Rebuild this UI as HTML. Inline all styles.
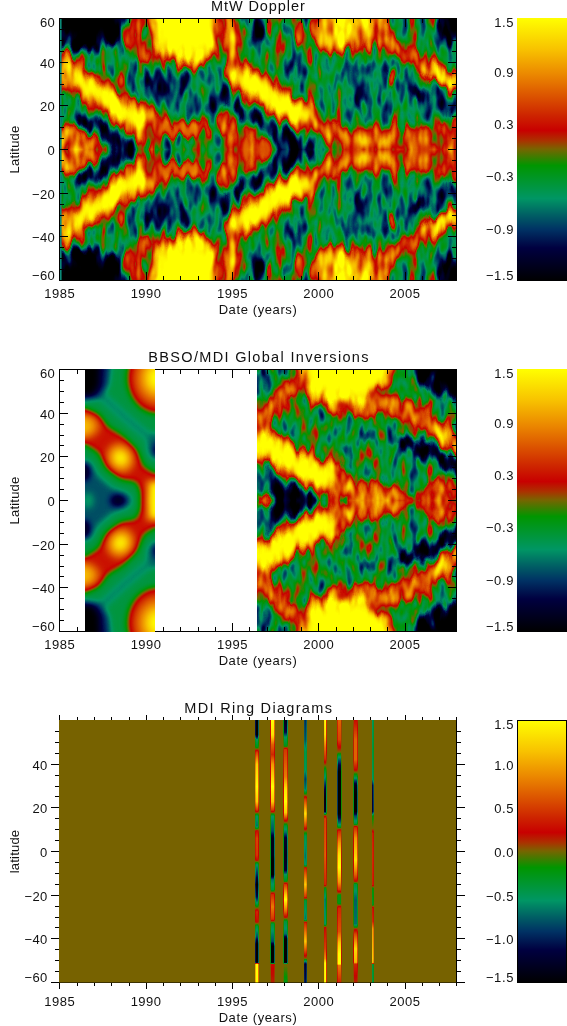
<!DOCTYPE html>
<html lang="en"><head><meta charset="utf-8"><title>Torsional oscillation</title>
<style>html,body{margin:0;padding:0;background:#fff}svg{display:block}text{font-family:'Liberation Sans', sans-serif;fill:#111}</style>
</head><body>
<svg width="567" height="1026" viewBox="0 0 567 1026">
<defs>
<filter id="cm" x="0" y="0" width="100%" height="100%" color-interpolation-filters="sRGB"><feComponentTransfer><feFuncR type="table" tableValues="0.000 0.000 0.000 0.000 0.000 0.000 0.000 0.000 0.000 0.000 0.000 0.000 0.000 0.000 0.000 0.000 0.000 0.000 0.000 0.000 0.000 0.000 0.000 0.000 0.000 0.000 0.000 0.000 0.000 0.000 0.000 0.000 0.000 0.000 0.000 0.000 0.000 0.000 0.059 0.147 0.235 0.324 0.412 0.495 0.569 0.642 0.690 0.725 0.761 0.786 0.790 0.794 0.798 0.803 0.810 0.819 0.827 0.836 0.845 0.854 0.863 0.872 0.880 0.889 0.898 0.907 0.916 0.924 0.930 0.936 0.942 0.948 0.954 0.960 0.966 0.973 0.975 0.978 0.981 0.984 0.986 0.989 0.992 0.995 0.997 1.000"/><feFuncG type="table" tableValues="0.000 0.000 0.000 0.000 0.000 0.000 0.000 0.000 0.000 0.000 0.000 0.011 0.044 0.076 0.109 0.142 0.174 0.209 0.246 0.284 0.322 0.360 0.400 0.440 0.480 0.521 0.561 0.588 0.588 0.588 0.588 0.588 0.588 0.588 0.588 0.588 0.588 0.588 0.564 0.527 0.490 0.453 0.417 0.368 0.294 0.221 0.157 0.098 0.039 0.010 0.039 0.069 0.098 0.127 0.157 0.186 0.216 0.245 0.275 0.304 0.333 0.363 0.392 0.422 0.451 0.480 0.510 0.539 0.567 0.595 0.624 0.652 0.680 0.708 0.736 0.765 0.788 0.812 0.835 0.859 0.882 0.906 0.929 0.953 0.976 1.000"/><feFuncB type="table" tableValues="0.000 0.024 0.047 0.071 0.094 0.118 0.141 0.165 0.188 0.212 0.235 0.259 0.282 0.306 0.329 0.353 0.376 0.392 0.392 0.392 0.392 0.392 0.392 0.392 0.392 0.392 0.392 0.380 0.343 0.306 0.270 0.233 0.196 0.159 0.123 0.086 0.049 0.012 0.000 0.000 0.000 0.000 0.000 0.000 0.000 0.000 0.000 0.000 0.000 0.000 0.000 0.000 0.000 0.000 0.000 0.000 0.000 0.000 0.000 0.000 0.000 0.000 0.000 0.000 0.000 0.000 0.000 0.000 0.000 0.000 0.000 0.000 0.000 0.000 0.000 0.000 0.000 0.000 0.000 0.000 0.000 0.000 0.000 0.000 0.000 0.000"/></feComponentTransfer></filter>
<filter id="cmN1n" x="0" y="0" width="100%" height="100%" color-interpolation-filters="sRGB">
<feTurbulence type="fractalNoise" baseFrequency="0.13 0.014" numOctaves="1" seed="3" result="t1"/>
<feColorMatrix in="t1" type="matrix" values="1 0 0 0 0  0 0 0 0 0.5  0 0 0 0 0.5  0 0 0 0 1" result="d1"/><feDisplacementMap in="SourceGraphic" in2="d1" scale="19" xChannelSelector="G" yChannelSelector="R" result="s1"/>
<feTurbulence type="fractalNoise" baseFrequency="0.11 0.04" numOctaves="2" seed="10" result="t2"/>
<feColorMatrix in="t2" type="matrix" values="1 0 0 0 0  1 0 0 0 0  1 0 0 0 0  0 0 0 0 1" result="n1"/>
<feComposite in="s1" in2="n1" operator="arithmetic" k1="0" k2="1" k3="0.75" k4="-0.375"/>
</filter>
<filter id="cmN1d" x="0" y="0" width="100%" height="100%" color-interpolation-filters="sRGB">
<feTurbulence type="fractalNoise" baseFrequency="0.13 0.014" numOctaves="1" seed="3" result="t1"/>
<feColorMatrix in="t1" type="matrix" values="1 0 0 0 0  0 0 0 0 0.5  0 0 0 0 0.5  0 0 0 0 1" result="d1"/><feDisplacementMap in="SourceGraphic" in2="d1" scale="19" xChannelSelector="G" yChannelSelector="R" result="s1"/>
</filter>
<filter id="cmN2n" x="0" y="0" width="100%" height="100%" color-interpolation-filters="sRGB">
<feTurbulence type="fractalNoise" baseFrequency="0.13 0.014" numOctaves="1" seed="11" result="t1"/>
<feColorMatrix in="t1" type="matrix" values="1 0 0 0 0  0 0 0 0 0.5  0 0 0 0 0.5  0 0 0 0 1" result="d1"/><feDisplacementMap in="SourceGraphic" in2="d1" scale="19" xChannelSelector="G" yChannelSelector="R" result="s1"/>
<feTurbulence type="fractalNoise" baseFrequency="0.11 0.045" numOctaves="2" seed="18" result="t2"/>
<feColorMatrix in="t2" type="matrix" values="1 0 0 0 0  1 0 0 0 0  1 0 0 0 0  0 0 0 0 1" result="n1"/>
<feComposite in="s1" in2="n1" operator="arithmetic" k1="0" k2="1" k3="0.68" k4="-0.34"/>
</filter>
<filter id="cmN2d" x="0" y="0" width="100%" height="100%" color-interpolation-filters="sRGB">
<feTurbulence type="fractalNoise" baseFrequency="0.13 0.014" numOctaves="1" seed="11" result="t1"/>
<feColorMatrix in="t1" type="matrix" values="1 0 0 0 0  0 0 0 0 0.5  0 0 0 0 0.5  0 0 0 0 1" result="d1"/><feDisplacementMap in="SourceGraphic" in2="d1" scale="19" xChannelSelector="G" yChannelSelector="R" result="s1"/>
</filter>
<filter id="bA" x="-20%" y="-20%" width="140%" height="140%" color-interpolation-filters="sRGB"><feGaussianBlur stdDeviation="3.2 3.6"/></filter>
<filter id="bB" x="-20%" y="-20%" width="140%" height="140%" color-interpolation-filters="sRGB"><feGaussianBlur stdDeviation="2.4 3.0"/></filter>
<filter id="bC" x="-20%" y="-20%" width="140%" height="140%" color-interpolation-filters="sRGB"><feGaussianBlur stdDeviation="1.3 2.0"/></filter>
<filter id="bS" x="-20%" y="-20%" width="140%" height="140%" color-interpolation-filters="sRGB"><feGaussianBlur stdDeviation="3.2 3.2"/></filter>
<filter id="bP" x="-20%" y="-20%" width="140%" height="140%" color-interpolation-filters="sRGB"><feGaussianBlur stdDeviation="0.6 0.01"/></filter>
<linearGradient id="cb" x1="0" y1="1" x2="0" y2="0">
<stop offset="0.0000" stop-color="#000000"/>
<stop offset="0.0627" stop-color="#000020"/>
<stop offset="0.1255" stop-color="#000040"/>
<stop offset="0.1961" stop-color="#003264"/>
<stop offset="0.2510" stop-color="#005f64"/>
<stop offset="0.3137" stop-color="#009664"/>
<stop offset="0.3765" stop-color="#009632"/>
<stop offset="0.4392" stop-color="#009600"/>
<stop offset="0.4706" stop-color="#3c7d00"/>
<stop offset="0.5020" stop-color="#786400"/>
<stop offset="0.5333" stop-color="#aa3200"/>
<stop offset="0.5725" stop-color="#c80000"/>
<stop offset="0.6275" stop-color="#cd2300"/>
<stop offset="0.7059" stop-color="#dc5500"/>
<stop offset="0.7843" stop-color="#eb8700"/>
<stop offset="0.8824" stop-color="#f8c300"/>
<stop offset="1.0000" stop-color="#ffff00"/>
</linearGradient>
</defs>
<rect width="567" height="1026" fill="#fff"/>
<clipPath id="cl1"><rect x="60" y="19" width="396" height="131"/></clipPath>
<g id="F1" clip-path="url(#cl1)"><g filter="url(#cm)">
<g filter="url(#cmN1n)">
<rect x="20" y="-21" width="476" height="341" fill="#5f5f5f"/>
<g filter="url(#bA)">
<g id="h1a_0">
<polygon points="330.0,64.0 400.0,64.0 450.0,90.0 456.0,116.0 400.0,118.0 340.0,104.0" fill="#484848"/>
<polygon points="130.0,70.0 200.0,66.0 232.0,80.0 236.0,104.0 200.0,118.0 160.0,112.0 135.0,95.0" fill="#444444"/>
<polygon points="40.0,0.0 128.0,0.0 124.0,30.0 114.0,44.0 98.0,49.0 80.0,50.0 62.0,50.0 40.0,50.0" fill="#000000"/>
<polyline points="40.0,57.0 60.0,70.0 76.0,80.0 103.0,97.7 139.0,120.0 152.0,128.0" fill="none" stroke="#9d9d9d" stroke-width="33" stroke-linecap="round" stroke-linejoin="round"/>
<polyline points="40.0,57.0 60.0,70.0 76.0,80.0 103.0,97.7 139.0,120.0 152.0,128.0" fill="none" stroke="#cccccc" stroke-width="23.099999999999998" stroke-linecap="round" stroke-linejoin="round"/>
<polyline points="40.0,57.0 60.0,70.0 76.0,80.0 103.0,97.7 139.0,120.0 152.0,128.0" fill="none" stroke="#ffffff" stroke-width="12.540000000000001" stroke-linecap="round" stroke-linejoin="round"/>
<polyline points="40.0,57.0 70.0,76.0" fill="none" stroke="#d0d0d0" stroke-width="17" stroke-linecap="round" stroke-linejoin="round"/>
<polyline points="150.0,129.0 175.0,130.0 199.0,130.0" fill="none" stroke="#9d9d9d" stroke-width="17" stroke-linecap="round" stroke-linejoin="round"/>
<polyline points="150.0,129.0 175.0,130.0 199.0,130.0" fill="none" stroke="#b3b3b3" stroke-width="11.899999999999999" stroke-linecap="round" stroke-linejoin="round"/>
<polyline points="150.0,129.0 175.0,130.0 199.0,130.0" fill="none" stroke="#c3c3c3" stroke-width="6.46" stroke-linecap="round" stroke-linejoin="round"/>
<polyline points="200.0,128.0 200.0,149.5" fill="none" stroke="#a2a2a2" stroke-width="7" stroke-linecap="butt" stroke-linejoin="round"/>
<polyline points="152.0,128.0 152.0,149.5" fill="none" stroke="#a2a2a2" stroke-width="8" stroke-linecap="butt" stroke-linejoin="round"/>
<polygon points="40.0,126.0 80.0,128.0 93.0,138.0 104.0,149.5 40.0,149.5" fill="#b3b3b3"/>
<polyline points="84.0,122.0 108.0,135.0 128.0,147.0 128.0,149.5" fill="none" stroke="#090909" stroke-width="13" stroke-linecap="round" stroke-linejoin="round"/>
<polygon points="146.0,0.0 220.0,0.0 219.0,52.0 207.0,64.0 190.0,70.0 172.0,64.0 156.0,56.0 148.0,42.0" fill="#a2a2a2"/>
<polygon points="152.0,0.0 216.0,0.0 215.0,48.0 205.0,58.0 190.0,63.0 172.0,57.0 158.0,50.0 153.0,40.0" fill="#ffffff"/>
<polyline points="228.0,5.0 230.0,40.0 238.0,70.0" fill="none" stroke="#9d9d9d" stroke-width="15" stroke-linecap="round" stroke-linejoin="round"/>
<polyline points="228.0,5.0 230.0,40.0 238.0,70.0" fill="none" stroke="#b3b3b3" stroke-width="10.5" stroke-linecap="round" stroke-linejoin="round"/>
<polyline points="228.0,5.0 230.0,40.0 238.0,70.0" fill="none" stroke="#c3c3c3" stroke-width="5.7" stroke-linecap="round" stroke-linejoin="round"/>
<polyline points="238.0,74.0 262.0,91.0 310.0,119.0" fill="none" stroke="#9d9d9d" stroke-width="30" stroke-linecap="round" stroke-linejoin="round"/>
<polyline points="238.0,74.0 262.0,91.0 310.0,119.0" fill="none" stroke="#d0d0d0" stroke-width="22.2" stroke-linecap="round" stroke-linejoin="round"/>
<polyline points="238.0,74.0 262.0,91.0 310.0,119.0" fill="none" stroke="#ffffff" stroke-width="13.8" stroke-linecap="round" stroke-linejoin="round"/>
<polyline points="306.0,118.0 320.0,124.0 342.0,138.0" fill="none" stroke="#999999" stroke-width="17" stroke-linecap="round" stroke-linejoin="round"/>
<polyline points="306.0,118.0 320.0,124.0 342.0,138.0" fill="none" stroke="#b3b3b3" stroke-width="11.899999999999999" stroke-linecap="round" stroke-linejoin="round"/>
<polyline points="306.0,118.0 320.0,124.0 342.0,138.0" fill="none" stroke="#c8c8c8" stroke-width="6.46" stroke-linecap="round" stroke-linejoin="round"/>
<polyline points="222.0,98.0 262.0,121.0 296.0,141.0" fill="none" stroke="#1a1a1a" stroke-width="11" stroke-linecap="round" stroke-linejoin="round"/>
<polygon points="270.0,134.0 296.0,136.0 318.0,149.5 270.0,149.5" fill="#1e1e1e"/>
<ellipse cx="300" cy="149.5" rx="12" ry="9" fill="#090909"/>
<ellipse cx="240" cy="149.5" rx="15" ry="29" fill="#a3a3a3"/>
<ellipse cx="236" cy="149.5" rx="6" ry="11" fill="#777777"/>
<ellipse cx="246" cy="149.5" rx="5" ry="15" fill="#bfbfbf"/>
<ellipse cx="225" cy="124" rx="8" ry="13" fill="#aaaaaa"/>
<ellipse cx="212" cy="129" rx="4" ry="5" fill="#9d9d9d"/>
<ellipse cx="263" cy="149.5" rx="11" ry="12" fill="#b3b3b3"/>
<polygon points="314.0,0.0 388.0,0.0 388.0,38.0 370.0,50.0 345.0,52.0 325.0,54.0 312.0,42.0" fill="#a2a2a2"/>
<polygon points="319.0,0.0 384.0,0.0 384.0,33.0 370.0,43.0 345.0,45.0 325.0,47.0 318.0,38.0" fill="#d9d9d9"/>
<polyline points="378.0,38.0 410.0,56.0 440.0,74.0 470.0,84.0" fill="none" stroke="#999999" stroke-width="17" stroke-linecap="round" stroke-linejoin="round"/>
<polyline points="378.0,38.0 410.0,56.0 440.0,74.0 470.0,84.0" fill="none" stroke="#aaaaaa" stroke-width="11.899999999999999" stroke-linecap="round" stroke-linejoin="round"/>
<polyline points="378.0,38.0 410.0,56.0 440.0,74.0 470.0,84.0" fill="none" stroke="#bbbbbb" stroke-width="6.46" stroke-linecap="round" stroke-linejoin="round"/>
<polygon points="438.0,0.0 470.0,0.0 470.0,40.0 450.0,42.0 440.0,30.0" fill="#000000"/>
<polygon points="338.0,149.5 343.0,131.0 360.0,127.0 420.0,128.0 440.0,121.0 470.0,119.0 470.0,149.5" fill="#a3a3a3"/>
<polygon points="128.0,0.0 150.0,0.0 150.0,58.0 138.0,62.0 124.0,46.0" fill="#808080"/>
</g>
<use href="#h1a_0" transform="translate(0 299.00) scale(1 -1)"/>
</g>
<g filter="url(#bB)">
<g id="h1a_1">
<ellipse cx="80" cy="149.5" rx="11" ry="8" fill="#cccccc"/>
<ellipse cx="340" cy="26" rx="7" ry="16" fill="#ffffff"/>
<ellipse cx="362" cy="24" rx="6" ry="14" fill="#f6f6f6"/>
<polyline points="428.0,70.0 446.0,79.0 470.0,86.0" fill="none" stroke="#eaeaea" stroke-width="10" stroke-linecap="round" stroke-linejoin="round"/>
<polyline points="348.0,141.0 395.0,141.0" fill="none" stroke="#b4b4b4" stroke-width="9" stroke-linecap="round" stroke-linejoin="round"/>
<polyline points="415.0,144.0 470.0,142.0" fill="none" stroke="#b1b1b1" stroke-width="8" stroke-linecap="round" stroke-linejoin="round"/>
<ellipse cx="356" cy="87" rx="9" ry="14" fill="#222222" transform="rotate(-20 356 87)"/>
<ellipse cx="420" cy="92" rx="11" ry="6" fill="#111111" transform="rotate(15 420 92)"/>
<ellipse cx="449" cy="106" rx="7" ry="8" fill="#1a1a1a" transform="rotate(20 449 106)"/>
<ellipse cx="177" cy="86" rx="12" ry="10" fill="#2a2a2a"/>
<ellipse cx="147" cy="81" rx="6" ry="6" fill="#1a1a1a"/>
<ellipse cx="258" cy="28" rx="9" ry="14" fill="#222222"/>
<ellipse cx="296" cy="70" rx="7" ry="9" fill="#2f2f2f"/>
<ellipse cx="125" cy="34" rx="4" ry="12" fill="#a2a2a2"/>
<ellipse cx="145" cy="48" rx="5" ry="14" fill="#a6a6a6"/>
<ellipse cx="136" cy="28" rx="4" ry="10" fill="#a2a2a2"/>
<ellipse cx="120" cy="82" rx="5" ry="9" fill="#9d9d9d"/>
<ellipse cx="300" cy="30" rx="5" ry="14" fill="#a2a2a2"/>
<ellipse cx="281" cy="40" rx="5" ry="12" fill="#a2a2a2"/>
<ellipse cx="270" cy="30" rx="4" ry="10" fill="#9d9d9d"/>
<ellipse cx="310" cy="56" rx="5" ry="10" fill="#9d9d9d"/>
<ellipse cx="392" cy="78" rx="5" ry="10" fill="#999999"/>
</g>
<use href="#h1a_1" transform="translate(0 299.00) scale(1 -1)"/>
</g>
<g filter="url(#bC)">
<g id="h1a_2">
</g>
<use href="#h1a_2" transform="translate(0 299.00) scale(1 -1)"/>
</g>
</g>
<g filter="url(#cmN1d)">
<rect x="20" y="-21" width="476" height="341" fill="none" stroke="none"/>
<g filter="url(#bB)">
<g id="h1c_0">
<polyline points="78.0,81.0 103.0,97.7 139.0,120.0" fill="none" stroke="#ffffff" stroke-width="9" stroke-linecap="round" stroke-linejoin="round"/>
<polyline points="244.0,79.0 262.0,91.0 306.0,117.0" fill="none" stroke="#ffffff" stroke-width="10" stroke-linecap="round" stroke-linejoin="round"/>
<polygon points="158.0,0.0 212.0,0.0 211.0,42.0 200.0,50.0 188.0,54.0 172.0,48.0 160.0,40.0" fill="#ffffff"/>
<polygon points="64.0,0.0 118.0,0.0 114.0,24.0 102.0,34.0 72.0,36.0 64.0,34.0" fill="#000000"/>
<polyline points="160.0,129.5 196.0,130.0" fill="none" stroke="#bbbbbb" stroke-width="7" stroke-linecap="round" stroke-linejoin="round"/>
<ellipse cx="263" cy="149.5" rx="7" ry="8" fill="#b3b3b3"/>
<ellipse cx="246" cy="149.5" rx="4" ry="12" fill="#bbbbbb"/>
<polygon points="444.0,0.0 470.0,0.0 470.0,32.0 450.0,28.0" fill="#000000"/>
</g>
<use href="#h1c_0" transform="translate(0 299.00) scale(1 -1)"/>
</g>
</g>

</g></g>
<use href="#F1" transform="translate(0 299.00) scale(1 -1)"/>
<rect x="60" y="19" width="1.6" height="261" fill="#0a8a78"/>
<rect x="517" y="18.0" width="50" height="263.0" fill="url(#cb)"/>
<text x="514" y="27.3" font-size="13" text-anchor="end" letter-spacing="0.6">1.5</text>
<text x="514" y="76.5" font-size="13" text-anchor="end" letter-spacing="0.6">0.9</text>
<text x="514" y="128.9" font-size="13" text-anchor="end" letter-spacing="0.6">0.3</text>
<text x="514" y="181.3" font-size="13" text-anchor="end" letter-spacing="0.6">−0.3</text>
<text x="514" y="233.7" font-size="13" text-anchor="end" letter-spacing="0.6">−0.9</text>
<text x="514" y="280.0" font-size="13" text-anchor="end" letter-spacing="0.6">−1.5</text>
<rect x="59.5" y="18.5" width="397.0" height="262.0" fill="none" stroke="#000" stroke-width="1" shape-rendering="crispEdges"/>
<path d="M59.5 280.0v-8.0M59.5 19.0v8.0M77.5 280.0v-4.0M77.5 19.0v4.0M94.5 280.0v-4.0M94.5 19.0v4.0M111.5 280.0v-4.0M111.5 19.0v4.0M129.5 280.0v-4.0M129.5 19.0v4.0M146.5 280.0v-8.0M146.5 19.0v8.0M163.5 280.0v-4.0M163.5 19.0v4.0M180.5 280.0v-4.0M180.5 19.0v4.0M198.5 280.0v-4.0M198.5 19.0v4.0M215.5 280.0v-4.0M215.5 19.0v4.0M232.5 280.0v-8.0M232.5 19.0v8.0M249.5 280.0v-4.0M249.5 19.0v4.0M267.5 280.0v-4.0M267.5 19.0v4.0M284.5 280.0v-4.0M284.5 19.0v4.0M301.5 280.0v-4.0M301.5 19.0v4.0M318.5 280.0v-8.0M318.5 19.0v8.0M336.5 280.0v-4.0M336.5 19.0v4.0M353.5 280.0v-4.0M353.5 19.0v4.0M370.5 280.0v-4.0M370.5 19.0v4.0M387.5 280.0v-4.0M387.5 19.0v4.0M405.5 280.0v-8.0M405.5 19.0v8.0M422.5 280.0v-4.0M422.5 19.0v4.0M439.5 280.0v-4.0M439.5 19.0v4.0M456.5 280.0v-4.0M456.5 19.0v4.0M60.0 280.5h8.0M456.0 280.5h-8.0M60.0 269.5h4.0M456.0 269.5h-4.0M60.0 258.5h4.0M456.0 258.5h-4.0M60.0 247.5h4.0M456.0 247.5h-4.0M60.0 236.5h8.0M456.0 236.5h-8.0M60.0 225.5h4.0M456.0 225.5h-4.0M60.0 215.5h4.0M456.0 215.5h-4.0M60.0 204.5h4.0M456.0 204.5h-4.0M60.0 193.5h8.0M456.0 193.5h-8.0M60.0 182.5h4.0M456.0 182.5h-4.0M60.0 171.5h4.0M456.0 171.5h-4.0M60.0 160.5h4.0M456.0 160.5h-4.0M60.0 149.5h8.0M456.0 149.5h-8.0M60.0 138.5h4.0M456.0 138.5h-4.0M60.0 127.5h4.0M456.0 127.5h-4.0M60.0 116.5h4.0M456.0 116.5h-4.0M60.0 105.5h8.0M456.0 105.5h-8.0M60.0 94.5h4.0M456.0 94.5h-4.0M60.0 84.5h4.0M456.0 84.5h-4.0M60.0 73.5h4.0M456.0 73.5h-4.0M60.0 62.5h8.0M456.0 62.5h-8.0M60.0 51.5h4.0M456.0 51.5h-4.0M60.0 40.5h4.0M456.0 40.5h-4.0M60.0 29.5h4.0M456.0 29.5h-4.0M60.0 18.5h8.0M456.0 18.5h-8.0" stroke="#000" stroke-width="1" fill="none" shape-rendering="crispEdges"/>
<text x="55" y="280.0" font-size="13" text-anchor="end" letter-spacing="0.3">−60</text>
<text x="55" y="242.2" font-size="13" text-anchor="end" letter-spacing="0.3">−40</text>
<text x="55" y="198.6" font-size="13" text-anchor="end" letter-spacing="0.3">−20</text>
<text x="55" y="154.9" font-size="13" text-anchor="end" letter-spacing="0.3">0</text>
<text x="55" y="111.2" font-size="13" text-anchor="end" letter-spacing="0.3">20</text>
<text x="55" y="67.6" font-size="13" text-anchor="end" letter-spacing="0.3">40</text>
<text x="55" y="27.3" font-size="13" text-anchor="end" letter-spacing="0.3">60</text>
<text x="59.8" y="298.2" font-size="13" text-anchor="middle" letter-spacing="0.5">1985</text>
<text x="146.1" y="298.2" font-size="13" text-anchor="middle" letter-spacing="0.5">1990</text>
<text x="232.4" y="298.2" font-size="13" text-anchor="middle" letter-spacing="0.5">1995</text>
<text x="318.7" y="298.2" font-size="13" text-anchor="middle" letter-spacing="0.5">2000</text>
<text x="405.0" y="298.2" font-size="13" text-anchor="middle" letter-spacing="0.5">2005</text>
<text x="258" y="314.3" font-size="13" text-anchor="middle" letter-spacing="0.6">Date (years)</text>
<text x="211.0" y="11.0" font-size="14.5" textLength="93.8" lengthAdjust="spacing">MtW Doppler</text>
<text transform="translate(19 149.5) rotate(-90)" font-size="13" text-anchor="middle" letter-spacing="0.2">Latitude</text>
<clipPath id="cl2b"><rect x="257" y="370" width="199" height="131"/></clipPath>
<g id="F2b" clip-path="url(#cl2b)"><g filter="url(#cm)">
<g filter="url(#cmN2n)">
<rect x="217" y="330" width="279" height="341" fill="#636363"/>
<g filter="url(#bA)">
<g id="h2ba_0">
<polyline points="240.0,432.0 257.0,441.0 300.0,465.0 336.0,482.0" fill="none" stroke="#9d9d9d" stroke-width="34" stroke-linecap="round" stroke-linejoin="round"/>
<polyline points="240.0,432.0 257.0,441.0 300.0,465.0 336.0,482.0" fill="none" stroke="#cccccc" stroke-width="26.52" stroke-linecap="round" stroke-linejoin="round"/>
<polyline points="240.0,432.0 257.0,441.0 300.0,465.0 336.0,482.0" fill="none" stroke="#ffffff" stroke-width="18.700000000000003" stroke-linecap="round" stroke-linejoin="round"/>
<polyline points="336.0,482.0 358.0,493.0" fill="none" stroke="#9d9d9d" stroke-width="20" stroke-linecap="round" stroke-linejoin="round"/>
<polyline points="336.0,482.0 358.0,493.0" fill="none" stroke="#bbbbbb" stroke-width="14.0" stroke-linecap="round" stroke-linejoin="round"/>
<polyline points="336.0,482.0 358.0,493.0" fill="none" stroke="#d0d0d0" stroke-width="7.6" stroke-linecap="round" stroke-linejoin="round"/>
<polygon points="240.0,466.0 262.0,470.0 300.0,487.0 324.0,500.5 240.0,500.5" fill="#404040"/>
<polygon points="270.0,476.0 300.0,488.0 322.0,500.5 270.0,500.5" fill="#040404"/>
<polygon points="296.0,350.0 394.0,350.0 394.0,402.0 376.0,414.0 345.0,414.0 312.0,406.0 298.0,392.0" fill="#a6a6a6"/>
<polygon points="345.0,396.0 388.0,396.0 380.0,406.0 355.0,406.0" fill="#bbbbbb"/>
<polygon points="302.0,350.0 387.0,350.0 386.0,394.0 370.0,401.0 340.0,401.0 314.0,398.0 304.0,388.0" fill="#ffffff"/>
<polyline points="260.0,420.0 282.0,394.0 302.0,380.0" fill="none" stroke="#999999" stroke-width="16" stroke-linecap="round" stroke-linejoin="round"/>
<polyline points="260.0,420.0 282.0,394.0 302.0,380.0" fill="none" stroke="#b3b3b3" stroke-width="11.2" stroke-linecap="round" stroke-linejoin="round"/>
<polyline points="260.0,420.0 282.0,394.0 302.0,380.0" fill="none" stroke="#c3c3c3" stroke-width="6.08" stroke-linecap="round" stroke-linejoin="round"/>
<polyline points="380.0,396.0 420.0,418.0 452.0,440.0 475.0,456.0" fill="none" stroke="#9d9d9d" stroke-width="22" stroke-linecap="round" stroke-linejoin="round"/>
<polyline points="380.0,396.0 420.0,418.0 452.0,440.0 475.0,456.0" fill="none" stroke="#aeaeae" stroke-width="15.399999999999999" stroke-linecap="round" stroke-linejoin="round"/>
<polyline points="380.0,396.0 420.0,418.0 452.0,440.0 475.0,456.0" fill="none" stroke="#bfbfbf" stroke-width="8.36" stroke-linecap="round" stroke-linejoin="round"/>
<polygon points="410.0,350.0 470.0,350.0 470.0,402.0 440.0,398.0 416.0,384.0" fill="#000000"/>
<polyline points="402.0,441.0 430.0,452.0 462.0,470.0" fill="none" stroke="#000000" stroke-width="13" stroke-linecap="round" stroke-linejoin="round"/>
<polygon points="350.0,500.5 356.0,482.0 380.0,483.0 400.0,490.0 414.0,500.5" fill="#b3b3b3"/>
<ellipse cx="440" cy="500.5" rx="20" ry="19" fill="#aeaeae"/>
</g>
<use href="#h2ba_0" transform="translate(0 1001.00) scale(1 -1)"/>
</g>
<g filter="url(#bB)">
<g id="h2ba_1">
<ellipse cx="266" cy="500.5" rx="10" ry="6" fill="#b3b3b3"/>
<polyline points="438.0,430.0 456.0,442.0 475.0,456.0" fill="none" stroke="#dddddd" stroke-width="9" stroke-linecap="round" stroke-linejoin="round"/>
<polyline points="358.0,496.0 385.0,498.0" fill="none" stroke="#d4d4d4" stroke-width="8" stroke-linecap="round" stroke-linejoin="round"/>
<ellipse cx="440" cy="500.5" rx="8" ry="8" fill="#cccccc"/>
<ellipse cx="262" cy="380" rx="8" ry="14" fill="#333333"/>
<ellipse cx="366" cy="436" rx="5" ry="7" fill="#2a2a2a"/>
<ellipse cx="345" cy="452" rx="4" ry="7" fill="#333333"/>
<ellipse cx="392" cy="440" rx="4" ry="9" fill="#333333"/>
</g>
<use href="#h2ba_1" transform="translate(0 1001.00) scale(1 -1)"/>
</g>
</g>
<g filter="url(#cmN2d)">
<rect x="217" y="330" width="279" height="341" fill="none" stroke="none"/>
<g filter="url(#bB)">
<g id="h2bc_0">
<polyline points="240.0,432.0 257.0,441.0 300.0,465.0 330.0,479.0" fill="none" stroke="#ffffff" stroke-width="12" stroke-linecap="round" stroke-linejoin="round"/>
<polygon points="308.0,350.0 382.0,350.0 381.0,386.0 366.0,392.0 340.0,392.0 318.0,389.0 309.0,380.0" fill="#ffffff"/>
<polygon points="434.0,350.0 470.0,350.0 470.0,396.0 442.0,390.0" fill="#000000"/>
</g>
<use href="#h2bc_0" transform="translate(0 1001.00) scale(1 -1)"/>
</g>
</g>

</g></g>
<use href="#F2b" transform="translate(0 1001.00) scale(1 -1)"/>
<rect x="517" y="369.0" width="50" height="263.0" fill="url(#cb)"/>
<text x="514" y="378.3" font-size="13" text-anchor="end" letter-spacing="0.6">1.5</text>
<text x="514" y="427.5" font-size="13" text-anchor="end" letter-spacing="0.6">0.9</text>
<text x="514" y="479.9" font-size="13" text-anchor="end" letter-spacing="0.6">0.3</text>
<text x="514" y="532.3" font-size="13" text-anchor="end" letter-spacing="0.6">−0.3</text>
<text x="514" y="584.7" font-size="13" text-anchor="end" letter-spacing="0.6">−0.9</text>
<text x="514" y="631.0" font-size="13" text-anchor="end" letter-spacing="0.6">−1.5</text>
<rect x="59.5" y="369.5" width="397.0" height="262.0" fill="none" stroke="#000" stroke-width="1" shape-rendering="crispEdges"/>
<path d="M59.5 631.0v-8.0M59.5 370.0v8.0M77.5 631.0v-4.0M77.5 370.0v4.0M94.5 631.0v-4.0M94.5 370.0v4.0M111.5 631.0v-4.0M111.5 370.0v4.0M129.5 631.0v-4.0M129.5 370.0v4.0M146.5 631.0v-8.0M146.5 370.0v8.0M163.5 631.0v-4.0M163.5 370.0v4.0M180.5 631.0v-4.0M180.5 370.0v4.0M198.5 631.0v-4.0M198.5 370.0v4.0M215.5 631.0v-4.0M215.5 370.0v4.0M232.5 631.0v-8.0M232.5 370.0v8.0M249.5 631.0v-4.0M249.5 370.0v4.0M267.5 631.0v-4.0M267.5 370.0v4.0M284.5 631.0v-4.0M284.5 370.0v4.0M301.5 631.0v-4.0M301.5 370.0v4.0M318.5 631.0v-8.0M318.5 370.0v8.0M336.5 631.0v-4.0M336.5 370.0v4.0M353.5 631.0v-4.0M353.5 370.0v4.0M370.5 631.0v-4.0M370.5 370.0v4.0M387.5 631.0v-4.0M387.5 370.0v4.0M405.5 631.0v-8.0M405.5 370.0v8.0M422.5 631.0v-4.0M422.5 370.0v4.0M439.5 631.0v-4.0M439.5 370.0v4.0M456.5 631.0v-4.0M456.5 370.0v4.0M60.0 631.5h8.0M456.0 631.5h-8.0M60.0 620.5h4.0M456.0 620.5h-4.0M60.0 609.5h4.0M456.0 609.5h-4.0M60.0 598.5h4.0M456.0 598.5h-4.0M60.0 587.5h8.0M456.0 587.5h-8.0M60.0 576.5h4.0M456.0 576.5h-4.0M60.0 566.5h4.0M456.0 566.5h-4.0M60.0 555.5h4.0M456.0 555.5h-4.0M60.0 544.5h8.0M456.0 544.5h-8.0M60.0 533.5h4.0M456.0 533.5h-4.0M60.0 522.5h4.0M456.0 522.5h-4.0M60.0 511.5h4.0M456.0 511.5h-4.0M60.0 500.5h8.0M456.0 500.5h-8.0M60.0 489.5h4.0M456.0 489.5h-4.0M60.0 478.5h4.0M456.0 478.5h-4.0M60.0 467.5h4.0M456.0 467.5h-4.0M60.0 456.5h8.0M456.0 456.5h-8.0M60.0 445.5h4.0M456.0 445.5h-4.0M60.0 435.5h4.0M456.0 435.5h-4.0M60.0 424.5h4.0M456.0 424.5h-4.0M60.0 413.5h8.0M456.0 413.5h-8.0M60.0 402.5h4.0M456.0 402.5h-4.0M60.0 391.5h4.0M456.0 391.5h-4.0M60.0 380.5h4.0M456.0 380.5h-4.0M60.0 369.5h8.0M456.0 369.5h-8.0" stroke="#000" stroke-width="1" fill="none" shape-rendering="crispEdges"/>
<text x="55" y="631.0" font-size="13" text-anchor="end" letter-spacing="0.3">−60</text>
<text x="55" y="593.2" font-size="13" text-anchor="end" letter-spacing="0.3">−40</text>
<text x="55" y="549.6" font-size="13" text-anchor="end" letter-spacing="0.3">−20</text>
<text x="55" y="505.9" font-size="13" text-anchor="end" letter-spacing="0.3">0</text>
<text x="55" y="462.2" font-size="13" text-anchor="end" letter-spacing="0.3">20</text>
<text x="55" y="418.6" font-size="13" text-anchor="end" letter-spacing="0.3">40</text>
<text x="55" y="378.3" font-size="13" text-anchor="end" letter-spacing="0.3">60</text>
<text x="59.8" y="649.2" font-size="13" text-anchor="middle" letter-spacing="0.5">1985</text>
<text x="146.1" y="649.2" font-size="13" text-anchor="middle" letter-spacing="0.5">1990</text>
<text x="232.4" y="649.2" font-size="13" text-anchor="middle" letter-spacing="0.5">1995</text>
<text x="318.7" y="649.2" font-size="13" text-anchor="middle" letter-spacing="0.5">2000</text>
<text x="405.0" y="649.2" font-size="13" text-anchor="middle" letter-spacing="0.5">2005</text>
<text x="258" y="665.3" font-size="13" text-anchor="middle" letter-spacing="0.6">Date (years)</text>
<text x="148.3" y="362.0" font-size="14.5" textLength="220.2" lengthAdjust="spacing">BBSO/MDI Global Inversions</text>
<text transform="translate(19 500.5) rotate(-90)" font-size="13" text-anchor="middle" letter-spacing="0.2">Latitude</text>
<clipPath id="cl2a"><rect x="85" y="369" width="70" height="132"/></clipPath>
<g id="F2a" clip-path="url(#cl2a)"><g filter="url(#cm)">
<rect x="45" y="329" width="150" height="343" fill="#5c5c5c"/>
<g filter="url(#bS)">
<g id="h2aa_0">
<polygon points="70.0,350.0 112.0,350.0 108.0,385.0 100.0,398.0 70.0,402.0" fill="#2a2a2a"/>
<polygon points="70.0,350.0 101.0,350.0 99.0,386.0 93.0,395.0 70.0,397.0" fill="#000000"/>
<polyline points="104.0,398.0 128.0,420.0 150.0,438.0" fill="none" stroke="#4b4b4b" stroke-width="9" stroke-linecap="round" stroke-linejoin="round"/>
<ellipse cx="158" cy="378" rx="31.0" ry="36.0" fill="#959595"/>
<ellipse cx="158" cy="378" rx="24.8" ry="28.8" fill="#b3b3b3"/>
<ellipse cx="158" cy="378" rx="18.599999999999998" ry="21.599999999999998" fill="#cccccc"/>
<ellipse cx="158" cy="378" rx="13.02" ry="15.12" fill="#e6e6e6"/>
<ellipse cx="158" cy="378" rx="7.75" ry="9.0" fill="#ffffff"/>
<polygon points="70.0,408.0 85.4,408.7 98.3,414.4 108.2,427.0 122.3,435.5 136.4,449.6 143.5,466.6 154.8,473.6 170.0,474.0 170.0,505.0 141.0,505.0 140.7,492.0 136.4,482.0 121.0,479.3 106.8,468.0 98.3,452.5 85.4,444.0 70.0,442.0" fill="#999999"/>
<ellipse cx="82" cy="426" rx="20.0" ry="15.0" fill="#aeaeae"/>
<ellipse cx="82" cy="426" rx="15.0" ry="11.25" fill="#c8c8c8"/>
<ellipse cx="82" cy="426" rx="10.0" ry="7.5" fill="#dddddd"/>
<ellipse cx="120.5" cy="458" rx="15.0" ry="17.0" fill="#b3b3b3" transform="rotate(-30 120.5 458)"/>
<ellipse cx="120.5" cy="458" rx="11.25" ry="12.75" fill="#cccccc" transform="rotate(-30 120.5 458)"/>
<ellipse cx="120.5" cy="458" rx="7.5" ry="8.5" fill="#e6e6e6" transform="rotate(-30 120.5 458)"/>
<ellipse cx="120.5" cy="458" rx="3.75" ry="4.25" fill="#ffffff" transform="rotate(-30 120.5 458)"/>
<polygon points="146.0,480.0 170.0,478.0 170.0,505.0 145.0,505.0" fill="#c3c3c3"/>
<polygon points="151.0,484.0 170.0,482.0 170.0,505.0 150.0,505.0" fill="#ffffff"/>
<polygon points="70.0,458.0 90.0,462.0 98.0,476.0 112.0,488.0 128.0,494.0 132.0,505.0 70.0,505.0" fill="#3b3b3b"/>
<ellipse cx="84" cy="472" rx="6" ry="9" fill="#0d0d0d"/>
<ellipse cx="118" cy="500.5" rx="8" ry="6" fill="#111111"/>
<ellipse cx="88" cy="500.5" rx="6" ry="8" fill="#515151"/>
<ellipse cx="156" cy="446" rx="9" ry="13" fill="#404040"/>
<ellipse cx="158" cy="450" rx="5" ry="7" fill="#1a1a1a"/>
</g>
<use href="#h2aa_0" transform="translate(0 1001.00) scale(1 -1)"/>
</g>

</g></g>
<use href="#F2a" transform="translate(0 1001.00) scale(1 -1)"/>
<rect x="517" y="720.0" width="50" height="263.0" fill="url(#cb)"/>
<rect x="517.5" y="720.5" width="49" height="262.0" fill="none" stroke="#000" stroke-width="1"/>
<text x="514" y="729.3" font-size="13" text-anchor="end" letter-spacing="0.6">1.5</text>
<text x="514" y="769.8" font-size="13" text-anchor="end" letter-spacing="0.6">1.0</text>
<text x="514" y="813.4" font-size="13" text-anchor="end" letter-spacing="0.6">0.5</text>
<text x="514" y="857.1" font-size="13" text-anchor="end" letter-spacing="0.6">0.0</text>
<text x="514" y="900.8" font-size="13" text-anchor="end" letter-spacing="0.6">−0.5</text>
<text x="514" y="944.4" font-size="13" text-anchor="end" letter-spacing="0.6">−1.0</text>
<text x="514" y="982.0" font-size="13" text-anchor="end" letter-spacing="0.6">−1.5</text>
<rect x="59.5" y="720.5" width="397.0" height="262.0" fill="none" stroke="#000" stroke-width="1" shape-rendering="crispEdges"/>
<path d="M59.5 983.0v5.5M59.5 720.0v-5.5M77.5 983.0v3.0M77.5 720.0v-3.0M94.5 983.0v3.0M94.5 720.0v-3.0M111.5 983.0v3.0M111.5 720.0v-3.0M129.5 983.0v3.0M129.5 720.0v-3.0M146.5 983.0v5.5M146.5 720.0v-5.5M163.5 983.0v3.0M163.5 720.0v-3.0M180.5 983.0v3.0M180.5 720.0v-3.0M198.5 983.0v3.0M198.5 720.0v-3.0M215.5 983.0v3.0M215.5 720.0v-3.0M232.5 983.0v5.5M232.5 720.0v-5.5M249.5 983.0v3.0M249.5 720.0v-3.0M267.5 983.0v3.0M267.5 720.0v-3.0M284.5 983.0v3.0M284.5 720.0v-3.0M301.5 983.0v3.0M301.5 720.0v-3.0M318.5 983.0v5.5M318.5 720.0v-5.5M336.5 983.0v3.0M336.5 720.0v-3.0M353.5 983.0v3.0M353.5 720.0v-3.0M370.5 983.0v3.0M370.5 720.0v-3.0M387.5 983.0v3.0M387.5 720.0v-3.0M405.5 983.0v5.5M405.5 720.0v-5.5M422.5 983.0v3.0M422.5 720.0v-3.0M439.5 983.0v3.0M439.5 720.0v-3.0M456.5 983.0v3.0M456.5 720.0v-3.0M59.0 982.5h-8.0M457.0 982.5h8.0M59.0 971.5h-4.0M457.0 971.5h4.0M59.0 960.5h-4.0M457.0 960.5h4.0M59.0 949.5h-4.0M457.0 949.5h4.0M59.0 938.5h-8.0M457.0 938.5h8.0M59.0 927.5h-4.0M457.0 927.5h4.0M59.0 917.5h-4.0M457.0 917.5h4.0M59.0 906.5h-4.0M457.0 906.5h4.0M59.0 895.5h-8.0M457.0 895.5h8.0M59.0 884.5h-4.0M457.0 884.5h4.0M59.0 873.5h-4.0M457.0 873.5h4.0M59.0 862.5h-4.0M457.0 862.5h4.0M59.0 851.5h-8.0M457.0 851.5h8.0M59.0 840.5h-4.0M457.0 840.5h4.0M59.0 829.5h-4.0M457.0 829.5h4.0M59.0 818.5h-4.0M457.0 818.5h4.0M59.0 807.5h-8.0M457.0 807.5h8.0M59.0 796.5h-4.0M457.0 796.5h4.0M59.0 786.5h-4.0M457.0 786.5h4.0M59.0 775.5h-4.0M457.0 775.5h4.0M59.0 764.5h-8.0M457.0 764.5h8.0M59.0 753.5h-4.0M457.0 753.5h4.0M59.0 742.5h-4.0M457.0 742.5h4.0M59.0 731.5h-4.0M457.0 731.5h4.0" stroke="#000" stroke-width="1" fill="none" shape-rendering="crispEdges"/>
<text x="47.5" y="982.0" font-size="13" text-anchor="end" letter-spacing="0.3">−60</text>
<text x="47.5" y="944.2" font-size="13" text-anchor="end" letter-spacing="0.3">−40</text>
<text x="47.5" y="900.6" font-size="13" text-anchor="end" letter-spacing="0.3">−20</text>
<text x="47.5" y="856.9" font-size="13" text-anchor="end" letter-spacing="0.3">0</text>
<text x="47.5" y="813.2" font-size="13" text-anchor="end" letter-spacing="0.3">20</text>
<text x="47.5" y="769.6" font-size="13" text-anchor="end" letter-spacing="0.3">40</text>
<text x="59.8" y="1006.1" font-size="13" text-anchor="middle" letter-spacing="0.5">1985</text>
<text x="146.1" y="1006.1" font-size="13" text-anchor="middle" letter-spacing="0.5">1990</text>
<text x="232.4" y="1006.1" font-size="13" text-anchor="middle" letter-spacing="0.5">1995</text>
<text x="318.7" y="1006.1" font-size="13" text-anchor="middle" letter-spacing="0.5">2000</text>
<text x="405.0" y="1006.1" font-size="13" text-anchor="middle" letter-spacing="0.5">2005</text>
<text x="258" y="1022.0" font-size="13" text-anchor="middle" letter-spacing="0.6">Date (years)</text>
<text x="184.3" y="713.0" font-size="14.5" textLength="147.6" lengthAdjust="spacing">MDI Ring Diagrams</text>
<text transform="translate(19 851.5) rotate(-90)" font-size="13" text-anchor="middle" letter-spacing="0.2">latitude</text>
<clipPath id="cl3"><rect x="59" y="720" width="397" height="262.5"/></clipPath>
<g clip-path="url(#cl3)"><g filter="url(#cm)">
<rect x="40" y="700" width="440" height="300" fill="#808080"/>
<g filter="url(#bP)">
<linearGradient id="sg0" gradientUnits="userSpaceOnUse" x1="0" y1="720" x2="0" y2="982">
<stop offset="0.0016" stop-color="#000000"/>
<stop offset="0.0563" stop-color="#000000"/>
<stop offset="0.0752" stop-color="#525252"/>
<stop offset="0.1034" stop-color="#696969"/>
<stop offset="0.1223" stop-color="#a8a8a8"/>
<stop offset="0.1694" stop-color="#e7e7e7"/>
<stop offset="0.2542" stop-color="#ffffff"/>
<stop offset="0.3108" stop-color="#e7e7e7"/>
<stop offset="0.3437" stop-color="#a8a8a8"/>
<stop offset="0.3673" stop-color="#525252"/>
<stop offset="0.4050" stop-color="#464646"/>
<stop offset="0.4239" stop-color="#969696"/>
<stop offset="0.4521" stop-color="#adadad"/>
<stop offset="0.5153" stop-color="#a8a8a8"/>
<stop offset="0.5339" stop-color="#969696"/>
<stop offset="0.5527" stop-color="#525252"/>
<stop offset="0.5904" stop-color="#2f2f2f"/>
<stop offset="0.6281" stop-color="#000000"/>
<stop offset="0.6752" stop-color="#242424"/>
<stop offset="0.7035" stop-color="#5d5d5d"/>
<stop offset="0.7318" stop-color="#a2a2a2"/>
<stop offset="0.7695" stop-color="#969696"/>
<stop offset="0.7883" stop-color="#5d5d5d"/>
<stop offset="0.8260" stop-color="#3b3b3b"/>
<stop offset="0.8543" stop-color="#000000"/>
<stop offset="0.9250" stop-color="#000000"/>
<stop offset="0.9316" stop-color="#ffffff"/>
<stop offset="1.0004" stop-color="#ffffff"/>
</linearGradient>
<rect x="255.3" y="716" width="3.2" height="270" fill="url(#sg0)"/>
<linearGradient id="sg1" gradientUnits="userSpaceOnUse" x1="0" y1="720" x2="0" y2="982">
<stop offset="0.0016" stop-color="#ffffff"/>
<stop offset="0.0563" stop-color="#f2f2f2"/>
<stop offset="0.0940" stop-color="#b9b9b9"/>
<stop offset="0.1317" stop-color="#a2a2a2"/>
<stop offset="0.1694" stop-color="#d0d0d0"/>
<stop offset="0.2542" stop-color="#ffffff"/>
<stop offset="0.3108" stop-color="#e7e7e7"/>
<stop offset="0.3437" stop-color="#a8a8a8"/>
<stop offset="0.3673" stop-color="#525252"/>
<stop offset="0.4239" stop-color="#3b3b3b"/>
<stop offset="0.4521" stop-color="#0d0d0d"/>
<stop offset="0.5153" stop-color="#0d0d0d"/>
<stop offset="0.5339" stop-color="#010101"/>
<stop offset="0.5904" stop-color="#010101"/>
<stop offset="0.6093" stop-color="#464646"/>
<stop offset="0.6470" stop-color="#5d5d5d"/>
<stop offset="0.6658" stop-color="#a2a2a2"/>
<stop offset="0.7129" stop-color="#c4c4c4"/>
<stop offset="0.7601" stop-color="#a8a8a8"/>
<stop offset="0.7789" stop-color="#5d5d5d"/>
<stop offset="0.8449" stop-color="#3b3b3b"/>
<stop offset="0.8637" stop-color="#000000"/>
<stop offset="0.9250" stop-color="#000000"/>
<stop offset="0.9316" stop-color="#969696"/>
<stop offset="1.0004" stop-color="#8b8b8b"/>
</linearGradient>
<rect x="270.8" y="716" width="3.7" height="270" fill="url(#sg1)"/>
<linearGradient id="sg2" gradientUnits="userSpaceOnUse" x1="0" y1="720" x2="0" y2="982">
<stop offset="0.0016" stop-color="#0d0d0d"/>
<stop offset="0.0469" stop-color="#242424"/>
<stop offset="0.0657" stop-color="#525252"/>
<stop offset="0.0987" stop-color="#696969"/>
<stop offset="0.1129" stop-color="#a8a8a8"/>
<stop offset="0.2165" stop-color="#c4c4c4"/>
<stop offset="0.2636" stop-color="#f2f2f2"/>
<stop offset="0.3108" stop-color="#ffffff"/>
<stop offset="0.3532" stop-color="#e7e7e7"/>
<stop offset="0.3767" stop-color="#a8a8a8"/>
<stop offset="0.4050" stop-color="#5d5d5d"/>
<stop offset="0.4286" stop-color="#464646"/>
<stop offset="0.4521" stop-color="#181818"/>
<stop offset="0.5153" stop-color="#0d0d0d"/>
<stop offset="0.5716" stop-color="#181818"/>
<stop offset="0.5904" stop-color="#525252"/>
<stop offset="0.6140" stop-color="#696969"/>
<stop offset="0.6281" stop-color="#a8a8a8"/>
<stop offset="0.6847" stop-color="#ffffff"/>
<stop offset="0.7318" stop-color="#b9b9b9"/>
<stop offset="0.7506" stop-color="#969696"/>
<stop offset="0.7695" stop-color="#5d5d5d"/>
<stop offset="0.8166" stop-color="#464646"/>
<stop offset="0.8355" stop-color="#010101"/>
<stop offset="0.9250" stop-color="#000000"/>
<stop offset="0.9316" stop-color="#808080"/>
<stop offset="1.0004" stop-color="#696969"/>
</linearGradient>
<rect x="283.8" y="716" width="3.7" height="270" fill="url(#sg2)"/>
<linearGradient id="sg3" gradientUnits="userSpaceOnUse" x1="0" y1="720" x2="0" y2="982">
<stop offset="0.0016" stop-color="#2f2f2f"/>
<stop offset="0.0752" stop-color="#3b3b3b"/>
<stop offset="0.1223" stop-color="#575757"/>
<stop offset="0.1882" stop-color="#525252"/>
<stop offset="0.2259" stop-color="#353535"/>
<stop offset="0.2636" stop-color="#464646"/>
<stop offset="0.2872" stop-color="#808080"/>
<stop offset="0.3013" stop-color="#a8a8a8"/>
<stop offset="0.3579" stop-color="#f2f2f2"/>
<stop offset="0.4050" stop-color="#adadad"/>
<stop offset="0.4239" stop-color="#808080"/>
<stop offset="0.4427" stop-color="#575757"/>
<stop offset="0.5153" stop-color="#464646"/>
<stop offset="0.5245" stop-color="#464646"/>
<stop offset="0.5527" stop-color="#525252"/>
<stop offset="0.5669" stop-color="#a2a2a2"/>
<stop offset="0.6281" stop-color="#e7e7e7"/>
<stop offset="0.6752" stop-color="#a8a8a8"/>
<stop offset="0.6894" stop-color="#5d5d5d"/>
<stop offset="0.7601" stop-color="#464646"/>
<stop offset="0.7742" stop-color="#a2a2a2"/>
<stop offset="0.8449" stop-color="#e7e7e7"/>
<stop offset="0.8873" stop-color="#a8a8a8"/>
<stop offset="0.9108" stop-color="#808080"/>
<stop offset="0.9316" stop-color="#181818"/>
<stop offset="1.0004" stop-color="#242424"/>
</linearGradient>
<rect x="304.1" y="716" width="2.7" height="270" fill="url(#sg3)"/>
<linearGradient id="sg4" gradientUnits="userSpaceOnUse" x1="0" y1="720" x2="0" y2="982">
<stop offset="0.0016" stop-color="#ffffff"/>
<stop offset="0.0563" stop-color="#f2f2f2"/>
<stop offset="0.1034" stop-color="#c4c4c4"/>
<stop offset="0.1506" stop-color="#a2a2a2"/>
<stop offset="0.1882" stop-color="#696969"/>
<stop offset="0.2259" stop-color="#464646"/>
<stop offset="0.2636" stop-color="#181818"/>
<stop offset="0.3013" stop-color="#000000"/>
<stop offset="0.3485" stop-color="#0d0d0d"/>
<stop offset="0.3626" stop-color="#808080"/>
<stop offset="0.3767" stop-color="#adadad"/>
<stop offset="0.5153" stop-color="#b9b9b9"/>
<stop offset="0.6281" stop-color="#a2a2a2"/>
<stop offset="0.6423" stop-color="#696969"/>
<stop offset="0.6847" stop-color="#464646"/>
<stop offset="0.7789" stop-color="#525252"/>
<stop offset="0.7930" stop-color="#969696"/>
<stop offset="0.8732" stop-color="#adadad"/>
<stop offset="0.9108" stop-color="#d0d0d0"/>
<stop offset="0.9278" stop-color="#ffffff"/>
<stop offset="0.9316" stop-color="#ffffff"/>
<stop offset="1.0004" stop-color="#ffffff"/>
</linearGradient>
<rect x="324.1" y="716" width="2.2" height="270" fill="url(#sg4)"/>
<linearGradient id="sg5" gradientUnits="userSpaceOnUse" x1="0" y1="720" x2="0" y2="982">
<stop offset="0.0016" stop-color="#b9b9b9"/>
<stop offset="0.0752" stop-color="#adadad"/>
<stop offset="0.1223" stop-color="#808080"/>
<stop offset="0.1411" stop-color="#525252"/>
<stop offset="0.1694" stop-color="#242424"/>
<stop offset="0.1977" stop-color="#000000"/>
<stop offset="0.3579" stop-color="#000000"/>
<stop offset="0.3814" stop-color="#2f2f2f"/>
<stop offset="0.4050" stop-color="#5d5d5d"/>
<stop offset="0.4239" stop-color="#a2a2a2"/>
<stop offset="0.4710" stop-color="#d0d0d0"/>
<stop offset="0.5153" stop-color="#f2f2f2"/>
<stop offset="0.5622" stop-color="#ffffff"/>
<stop offset="0.6187" stop-color="#d0d0d0"/>
<stop offset="0.6470" stop-color="#a8a8a8"/>
<stop offset="0.6705" stop-color="#696969"/>
<stop offset="0.6988" stop-color="#696969"/>
<stop offset="0.7177" stop-color="#a2a2a2"/>
<stop offset="0.8072" stop-color="#b3b3b3"/>
<stop offset="0.8543" stop-color="#e7e7e7"/>
<stop offset="0.8920" stop-color="#ffffff"/>
<stop offset="0.9316" stop-color="#ffffff"/>
<stop offset="0.9354" stop-color="#c4c4c4"/>
<stop offset="1.0004" stop-color="#a2a2a2"/>
</linearGradient>
<rect x="337.4" y="716" width="3.7" height="270" fill="url(#sg5)"/>
<linearGradient id="sg6" gradientUnits="userSpaceOnUse" x1="0" y1="720" x2="0" y2="982">
<stop offset="0.0016" stop-color="#969696"/>
<stop offset="0.0752" stop-color="#b9b9b9"/>
<stop offset="0.1506" stop-color="#b9b9b9"/>
<stop offset="0.1882" stop-color="#969696"/>
<stop offset="0.2165" stop-color="#5d5d5d"/>
<stop offset="0.2495" stop-color="#0d0d0d"/>
<stop offset="0.2825" stop-color="#000000"/>
<stop offset="0.3485" stop-color="#000000"/>
<stop offset="0.3673" stop-color="#3b3b3b"/>
<stop offset="0.3956" stop-color="#5d5d5d"/>
<stop offset="0.4097" stop-color="#a2a2a2"/>
<stop offset="0.4521" stop-color="#d0d0d0"/>
<stop offset="0.5153" stop-color="#e7e7e7"/>
<stop offset="0.5339" stop-color="#f2f2f2"/>
<stop offset="0.5904" stop-color="#b9b9b9"/>
<stop offset="0.6140" stop-color="#969696"/>
<stop offset="0.6281" stop-color="#5d5d5d"/>
<stop offset="0.6847" stop-color="#404040"/>
<stop offset="0.7789" stop-color="#464646"/>
<stop offset="0.7978" stop-color="#8b8b8b"/>
<stop offset="0.8166" stop-color="#adadad"/>
<stop offset="0.8732" stop-color="#ededed"/>
<stop offset="0.9250" stop-color="#dbdbdb"/>
<stop offset="0.9316" stop-color="#a2a2a2"/>
<stop offset="1.0004" stop-color="#8b8b8b"/>
</linearGradient>
<rect x="353.8" y="716" width="3.7" height="270" fill="url(#sg6)"/>
<linearGradient id="sg7" gradientUnits="userSpaceOnUse" x1="0" y1="720" x2="0" y2="982">
<stop offset="0.0016" stop-color="#464646"/>
<stop offset="0.1223" stop-color="#525252"/>
<stop offset="0.2259" stop-color="#464646"/>
<stop offset="0.2495" stop-color="#0d0d0d"/>
<stop offset="0.3485" stop-color="#010101"/>
<stop offset="0.3673" stop-color="#696969"/>
<stop offset="0.4144" stop-color="#808080"/>
<stop offset="0.4333" stop-color="#a8a8a8"/>
<stop offset="0.5153" stop-color="#adadad"/>
<stop offset="0.6281" stop-color="#a8a8a8"/>
<stop offset="0.6423" stop-color="#696969"/>
<stop offset="0.7035" stop-color="#5d5d5d"/>
<stop offset="0.7177" stop-color="#a2a2a2"/>
<stop offset="0.7695" stop-color="#adadad"/>
<stop offset="0.7978" stop-color="#e7e7e7"/>
<stop offset="0.9108" stop-color="#ffffff"/>
<stop offset="0.9278" stop-color="#f2f2f2"/>
<stop offset="0.9316" stop-color="#525252"/>
<stop offset="1.0004" stop-color="#525252"/>
</linearGradient>
<rect x="372.2" y="716" width="1.4" height="270" fill="url(#sg7)"/>
</g></g></g>
</svg></body></html>
